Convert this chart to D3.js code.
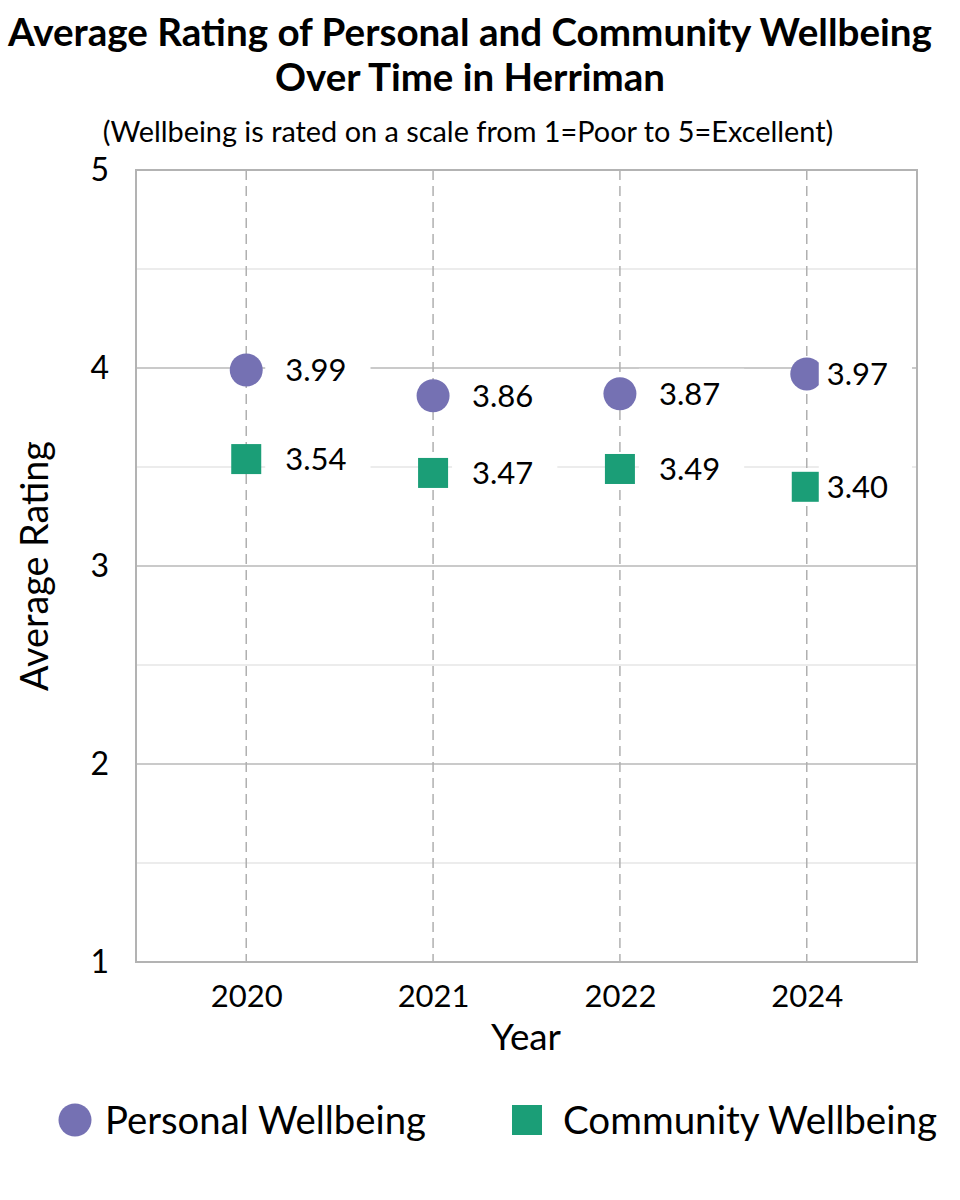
<!DOCTYPE html>
<html>
<head>
<meta charset="utf-8">
<script src="https://cdn.jsdelivr.net/npm/d3@7"></script>
<style>
  body { margin: 0; background: #fff; }
  text { font-family: Lato, "Noto Sans", sans-serif; fill: #000; }
</style>
</head>
<body>
<svg id="container" width="960" height="1200"></svg>
<script>
const years = ["2020", "2021", "2022", "2024"];
const personal = [3.99, 3.86, 3.87, 3.97];
const community = [3.54, 3.47, 3.49, 3.40];
const yTicks = [1, 2, 3, 4, 5];
const yMinor = [1.5, 2.5, 3.5, 4.5];
const seriesNames = ["Personal Wellbeing", "Community Wellbeing"];

const svg = d3.select('#container');
const width = +svg.attr('width');
const height = +svg.attr('height');
const margin = { top: 170, right: 43, bottom: 238, left: 136 };
const plotR = width - margin.right, plotB = height - margin.bottom;

const purple = "#7571b3", green = "#1b9e77";

// scales
const x = d3.scalePoint().domain(years).range([margin.left, plotR]).padding(0.59);
const y = d3.scaleLinear().domain([1, 5]).range([plotB, margin.top]);

// shrink/grow a text so it spans the given width
function fit(sel, target) {
    sel.each(function () {
        const s = parseFloat(this.getAttribute('font-size'));
        const len = this.getComputedTextLength();
        this.setAttribute('font-size', (s * target / len).toFixed(2));
    });
}

// titles
svg.append('text').attr('x', 470).attr('y', 46).attr('text-anchor', 'middle')
    .attr('font-size', 34).attr('font-weight', 'bold')
    .text("Average Rating of Personal and Community Wellbeing").call(fit, 924);
svg.append('text').attr('x', 470).attr('y', 91).attr('text-anchor', 'middle')
    .attr('font-size', 34).attr('font-weight', 'bold')
    .text("Over Time in Herriman").call(fit, 390);
svg.append('text').attr('x', 468).attr('y', 142).attr('text-anchor', 'middle')
    .attr('font-size', 24)
    .text("(Wellbeing is rated on a scale from 1=Poor to 5=Excellent)").call(fit, 731);

// gridlines
const grid = svg.append('g');
grid.selectAll('line.minor').data(yMinor).join('line')
    .attr('x1', margin.left).attr('x2', plotR)
    .attr('y1', d => y(d)).attr('y2', d => y(d))
    .attr('stroke', '#d9d9d9').attr('stroke-width', 1.2);
grid.selectAll('line.major').data(yTicks).join('line')
    .attr('x1', margin.left).attr('x2', plotR)
    .attr('y1', d => y(d)).attr('y2', d => y(d))
    .attr('stroke', '#b8b8b8').attr('stroke-width', 1.5);
grid.selectAll('line.vert').data(years).join('line')
    .attr('x1', d => x(d)).attr('x2', d => x(d))
    .attr('y1', margin.top).attr('y2', plotB)
    .attr('stroke', '#b0b0b0').attr('stroke-width', 1.5)
    .attr('stroke-dasharray', '10,6');

// plot frame
svg.append('rect')
    .attr('x', margin.left).attr('y', margin.top)
    .attr('width', plotR - margin.left).attr('height', plotB - margin.top)
    .attr('fill', 'none').attr('stroke', '#b3b3b3').attr('stroke-width', 2);

// axes
const yAxis = svg.append('g').attr('transform', `translate(${margin.left - 27},0)`)
    .call(d3.axisLeft(y).tickValues(yTicks).tickFormat(d3.format('d')).tickSize(0).tickPadding(0));
yAxis.select('.domain').remove();
yAxis.selectAll('text').attr('font-size', 32).attr('font-family', 'Lato');

const xAxis = svg.append('g').attr('transform', `translate(0,${plotB + 20})`)
    .call(d3.axisBottom(x).tickSize(0).tickPadding(3));
xAxis.select('.domain').remove();
xAxis.selectAll('text').attr('font-size', 31).attr('font-family', 'Lato');

svg.append('text').attr('x', 526).attr('y', 1050).attr('text-anchor', 'middle')
    .attr('font-size', 32).text("Year").call(fit, 70);
svg.append('text').attr('transform', `translate(48,${y(3)}) rotate(-90)`)
    .attr('text-anchor', 'middle').attr('font-size', 32).text("Average Rating").call(fit, 250);

// markers
const pts = years.map((yr, i) => ({ yr, p: personal[i], c: community[i] }));
svg.append('g').selectAll('circle').data(pts).join('circle')
    .attr('cx', d => x(d.yr)).attr('cy', d => y(d.p)).attr('r', 16.5)
    .attr('fill', purple);
svg.append('g').selectAll('rect').data(pts).join('rect')
    .attr('x', d => x(d.yr) - 15).attr('y', d => y(d.c) - 15)
    .attr('width', 30).attr('height', 30).attr('fill', green);

// data labels with white boxes
const labels = [];
pts.forEach(d => {
    labels.push({ cx: x(d.yr), cy: y(d.p), v: d.p });
    labels.push({ cx: x(d.yr), cy: y(d.c), v: d.c });
});
const lab = svg.append('g').selectAll('g').data(labels).join('g');
lab.each(function (d) {
    const g = d3.select(this);
    const squeezed = d.cx + 124 > plotR - 6;
    const boxL = d.cx + (squeezed ? 12 : 19);
    const tx = d.cx + (squeezed ? 20 : 39);
    const rect = g.append('rect').attr('fill', '#fff');
    const t = g.append('text').attr('x', tx).attr('y', d.cy).attr('dy', '0.36em')
        .attr('font-size', 31).text(d3.format('.2f')(d.v));
    const w = t.node().getComputedTextLength();
    rect.attr('x', boxL).attr('y', d.cy - 25)
        .attr('width', tx + w + 24 - boxL).attr('height', 50);
});

// legend
const legend = svg.append('g');
legend.append('circle').attr('cx', 75).attr('cy', 1120).attr('r', 16.5).attr('fill', purple);
legend.append('text').attr('x', 105).attr('y', 1120).attr('dy', '0.36em')
    .attr('font-size', 34).text(seriesNames[0]).call(fit, 321);
legend.append('rect').attr('x', 512).attr('y', 1105).attr('width', 30).attr('height', 30).attr('fill', green);
legend.append('text').attr('x', 563).attr('y', 1120).attr('dy', '0.36em')
    .attr('font-size', 34).text(seriesNames[1]).call(fit, 374);
</script>
</body>
</html>
